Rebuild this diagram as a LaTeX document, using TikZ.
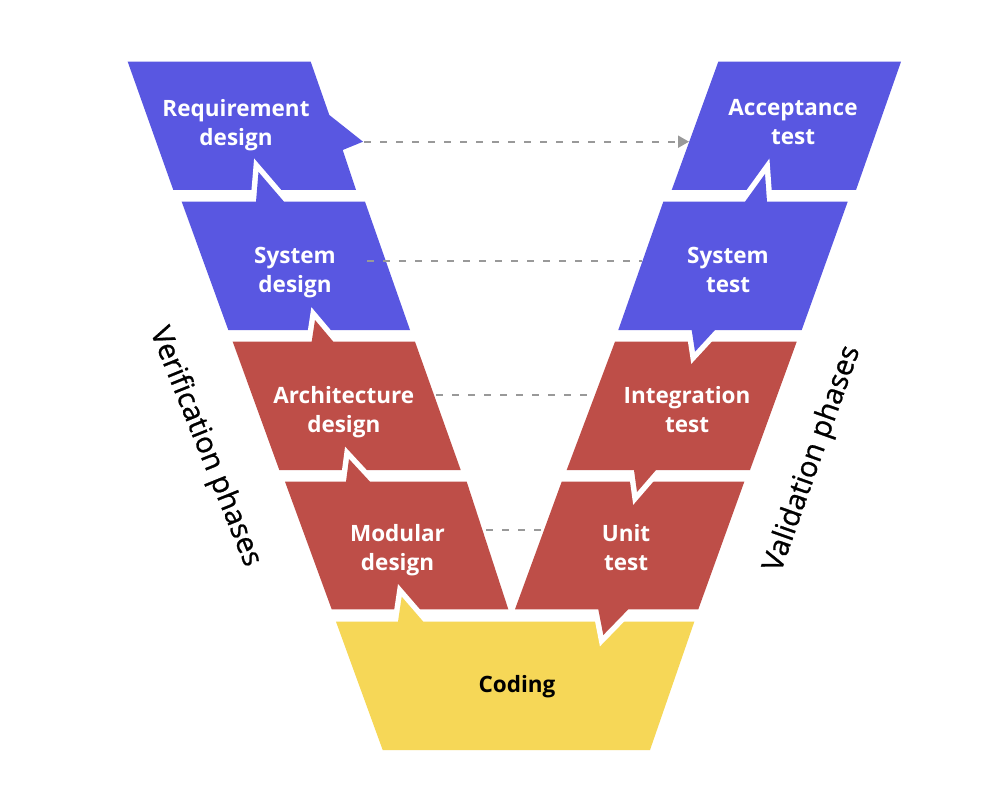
\documentclass[tikz,border=0pt]{standalone}
\usepackage{fontspec}
\setmainfont{Open Sans}
\newfontfamily\sidefont{Open Sans}[FakeBold=0.8]
\usetikzlibrary{arrows.meta}
\definecolor{vblue}{HTML}{5957E1}
\definecolor{vred}{HTML}{BE4E48}
\definecolor{vyellow}{HTML}{F6D757}
\definecolor{dashgray}{HTML}{999999}
\begin{document}
\begin{tikzpicture}[x=1pt, y=-1pt,
  blk/.style={preaction={draw=white, line width=11pt, line join=miter}},
  lbl/.style={text=white, font=\bfseries\fontsize{22.5}{29}\selectfont, align=center, inner sep=0pt,
    execute at begin node=\strut, execute at end node=\strut},
  conn/.style={draw=dashgray, line width=2pt, dash pattern=on 7pt off 9pt},
  side/.style={font=\sidefont\fontsize{29}{32}\selectfont, inner sep=0pt, text=black}]
\fill[white] (0,0) rectangle (1000,810);
\path[use as bounding box] (0,0) rectangle (1000,810);
% left column
\fill[vblue, blk] (127.7,61.7) -- (310.7,61.7) -- (329.3,115) -- (363,141.7) -- (342.7,150) -- (356,190) -- (173.3,190) -- cycle;
\fill[vblue, blk] (181.7,201.7) -- (256,201.7) -- (258.5,172) -- (284,201.7) -- (365,201.7) -- (410,330) -- (228.3,330) -- cycle;
\fill[vred, blk] (232.7,341.7) -- (311.7,341.7) -- (315,320) -- (333.3,341.7) -- (415,341.7) -- (460.7,470) -- (279.3,470) -- cycle;
\fill[vred, blk] (285,481.7) -- (346,481.7) -- (349,459) -- (370,481.7) -- (466.7,481.7) -- (508.3,609.3) -- (331.7,609.3) -- cycle;
\fill[vyellow, blk] (336,621.7) -- (398,621.7) -- (401.7,596.7) -- (423.3,621.7) -- (694.3,621.7) -- (650,750) -- (382.7,750) -- cycle;
% right column
\fill[vred, blk] (561.7,481.7) -- (744.3,481.7) -- (698.3,609.3) -- (628.3,609.3) -- (603.3,635) -- (598.3,609.3) -- (515,609.3) -- cycle;
\fill[vred, blk] (615,341.7) -- (796.7,341.7) -- (750,470) -- (656,470) -- (637,492) -- (634,470) -- (566.7,470) -- cycle;
\fill[vblue, blk] (718.3,61.7) -- (901,61.7) -- (856,190) -- (671.7,190) -- cycle;
\fill[vblue, blk] (663.3,201.7) -- (745,201.7) -- (765,174) -- (767,201.7) -- (847.7,201.7) -- (801.7,330) -- (715,330) -- (695,351.7) -- (691.7,330) -- (618.3,330) -- cycle;
% connector end points
\coordinate (reqTip) at (364,141.7);
\coordinate (accEdge) at (689,141.7);
\coordinate (sysdIn) at (367,260.7);
\coordinate (systEdge) at (642,260.7);
\coordinate (archEdge) at (436,395);
\coordinate (intEdge) at (595,395);
\coordinate (modEdge) at (486,530);
\coordinate (unitEdge) at (547,530);
\draw[conn, -{Triangle[length=11pt,width=12pt]}] (reqTip) -- (accEdge);
\draw[conn] (sysdIn) -- (systEdge);
\draw[conn] (archEdge) -- (intEdge);
\draw[conn] (modEdge) -- (unitEdge);
% labels
\node[lbl] (reqL) at (236,126.5) {Requirement\\design};
\node[lbl] (sysdL) at (295,274.5) {System\\design};
\node[lbl] (archL) at (343.8,413.5) {Architecture\\design};
\node[lbl] (modL) at (397.5,551.5) {Modular\\design};
\node[lbl, text=black] (codL) at (517,687) {Coding};
\node[lbl] (accL) at (793,126.5) {Acceptance\\test};
\node[lbl] (systL) at (728,274.5) {System\\test};
\node[lbl] (intL) at (687,413.5) {Integration\\test};
\node[lbl] (unitL) at (626,551.5) {Unit\\test};
\node[side, rotate=-68] (verL) at (205,447) {Verification phases};
\node[side, rotate=70.5] (valL) at (813,459) {Validation phases};
\end{tikzpicture}
\end{document}
